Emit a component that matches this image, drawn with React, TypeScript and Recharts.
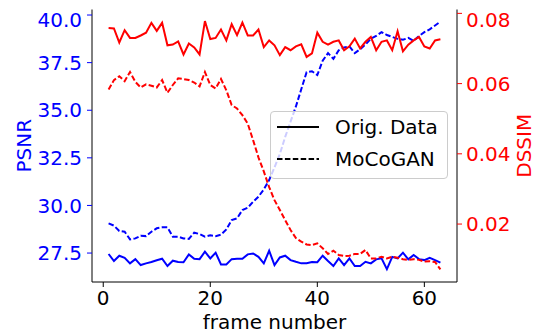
import { LineChart, Line, XAxis, YAxis, Legend } from "recharts";

const frames = [
  1, 2, 3, 4, 5, 6, 7, 8, 9, 10, 11, 12, 13, 14, 15, 16, 17, 18, 19, 20, 21,
  22, 23, 24, 25, 26, 27, 28, 29, 30, 31, 32, 33, 34, 35, 36, 37, 38, 39, 40,
  41, 42, 43, 44, 45, 46, 47, 48, 49, 50, 51, 52, 53, 54, 55, 56, 57, 58, 59,
  60, 61, 62, 63,
];

const psnrOrig = [
  27.45, 27.08, 27.36, 27.25, 26.96, 27.18, 26.87, 26.96, 27.03, 27.12,
  27.2, 26.82, 27.1, 27.03, 27.02, 27.43, 27.2, 27.18, 27.57, 27.22,
  27.52, 26.9, 26.9, 27.18, 27.2, 27.2, 27.43, 27.48, 27.3, 26.96,
  27.62, 26.87, 27.27, 27.36, 27.13, 27.04, 26.96, 26.96, 27.03, 27.02,
  27.36, 27.08, 26.82, 27.22, 26.87, 27.22, 26.82, 26.82, 27.04, 26.96,
  27.17, 27.22, 26.65, 27.3, 27.22, 27.52, 27.17, 27.4, 27.18, 27.13,
  27.25, 27.13, 27.0,
];

const psnrMoco = [
  29.06, 28.94, 28.66, 28.62, 28.22, 28.27, 28.41, 28.39, 28.62, 28.8,
  28.85, 28.85, 28.36, 28.36, 28.27, 28.24, 28.57, 28.5, 28.36, 28.43,
  28.39, 28.47, 28.74, 29.23, 29.32, 29.76, 29.88, 30.19, 30.46, 30.84,
  31.33, 32.0, 32.7, 33.6, 34.4, 35.2, 36.1, 37.0, 37.05, 36.85,
  37.6, 38.0, 37.7, 38.15, 38.3, 38.35, 38.0, 38.2, 38.45, 38.75,
  38.9, 39.1, 38.95, 38.85, 38.75, 38.7, 38.8, 38.65, 38.9, 39.1,
  39.25, 39.45, 39.65,
];

const dssimOrig = [
  0.0758, 0.0757, 0.0717, 0.0752, 0.073, 0.073, 0.0737, 0.0745, 0.0773, 0.075,
  0.0773, 0.0709, 0.0711, 0.072, 0.0683, 0.0714, 0.0703, 0.0683, 0.0778, 0.0727,
  0.073, 0.0754, 0.0723, 0.0769, 0.0738, 0.0774, 0.0737, 0.0737, 0.0754, 0.0704,
  0.0723, 0.0709, 0.0681, 0.0704, 0.0695, 0.0706, 0.0712, 0.0676, 0.0686, 0.0745,
  0.0719, 0.0711, 0.0719, 0.0723, 0.0695, 0.0706, 0.0728, 0.07, 0.0719, 0.0733,
  0.0695, 0.0719, 0.0723, 0.0695, 0.0749, 0.0692, 0.0711, 0.0723, 0.0733, 0.0706,
  0.07, 0.0723, 0.0726,
];

const dssimMoco = [
  0.0583, 0.061, 0.0621, 0.0607, 0.0633, 0.0605, 0.0589, 0.0598, 0.0594, 0.0589,
  0.061, 0.0574, 0.0596, 0.0615, 0.0613, 0.061, 0.0603, 0.0592, 0.0633, 0.0596,
  0.0586, 0.0613, 0.0581, 0.0539, 0.0529, 0.051, 0.0486, 0.0439, 0.039, 0.035,
  0.0305, 0.0268, 0.024, 0.0211, 0.0183, 0.016, 0.015, 0.0142, 0.014, 0.0145,
  0.0131, 0.0115, 0.0124, 0.0112, 0.0109, 0.011, 0.0115, 0.0115, 0.0126, 0.0102,
  0.0102, 0.0107, 0.0102, 0.0107, 0.0104, 0.01, 0.0098, 0.01, 0.0098, 0.0093,
  0.0094, 0.0092, 0.0071,
];

const xTicks = [0, 20, 40, 60];
const psnrTicks = [27.5, 30, 32.5, 35, 37.5, 40];
const dssimTicks = [0.02, 0.04, 0.06, 0.08];

const data = frames.map((f, i) => ({
  frame: f,
  psnrOrig: psnrOrig[i],
  psnrMoco: psnrMoco[i],
  dssimOrig: dssimOrig[i],
  dssimMoco: dssimMoco[i],
}));

const FONT = "'DejaVu Sans', sans-serif";
const BLUE = "#0000ff";
const RED = "#ff0000";
const DASH = "5.5 2.4";

const renderLegend = () => (
  <div
    style={{
      width: 178,
      height: 68,
      boxSizing: "border-box",
      border: "1px solid #cccccc",
      borderRadius: 4,
      background: "rgba(255,255,255,0.8)",
      fontFamily: FONT,
      fontSize: 20,
      color: "#000",
      position: "relative",
    }}
  >
    {[
      { label: "Orig. Data", dash: undefined, y: 15 },
      { label: "MoCoGAN", dash: DASH, y: 47 },
    ].map((it) => (
      <div key={it.label} style={{ position: "absolute", left: 0, top: it.y - 12, height: 24, width: 178 }}>
        <svg width={50} height={24} style={{ position: "absolute", left: 6, top: 0 }}>
          <line x1={0} y1={12} x2={42} y2={12} stroke="#000" strokeWidth={2} strokeDasharray={it.dash} />
        </svg>
        <span style={{ position: "absolute", left: 64, top: 0, lineHeight: "24px", whiteSpace: "nowrap" }}>
          {it.label}
        </span>
      </div>
    ))}
  </div>
);

export default function App() {
  return (
    <LineChart
      width={534}
      height={326}
      data={data}
      margin={{ top: 1.5, right: 0, bottom: 0, left: 0 }}
      style={{ fontFamily: FONT }}
    >
      <XAxis
        dataKey="frame"
        type="number"
        domain={[-2.1, 66.1]}
        ticks={xTicks}
        allowDataOverflow
        height={52}
        tickSize={5}
        tickMargin={4}
        axisLine={{ stroke: "#000", strokeWidth: 1 }}
        tickLine={{ stroke: "#000" }}
        tick={{ fill: "#000", fontSize: 20 }}
        label={({ viewBox }: any) => (
          <text
            x={viewBox.x + viewBox.width / 2}
            y={321}
            textAnchor="middle"
            fontSize={20}
            fill="#000"
          >
            frame number
          </text>
        )}
      />
      <XAxis
        xAxisId="top"
        dataKey="frame"
        type="number"
        domain={[-2.1, 66.1]}
        orientation="top"
        height={0}
        tick={false}
        tickLine={false}
        axisLine={{ stroke: "#000", strokeWidth: 1 }}
      />
      <YAxis
        yAxisId="psnr"
        orientation="left"
        width={84}
        domain={[25.98, 40.29]}
        ticks={psnrTicks}
        allowDataOverflow
        tickFormatter={(v: number) => v.toFixed(1)}
        tickSize={5}
        tickMargin={5}
        axisLine={{ stroke: "#000", strokeWidth: 1 }}
        tickLine={{ stroke: BLUE }}
        tick={{ fill: BLUE, fontSize: 20 }}
        label={({ viewBox }: any) => {
          const cy = viewBox.y + viewBox.height / 2;
          return (
            <text
              x={16}
              y={cy}
              transform={`rotate(-90 16 ${cy})`}
              textAnchor="middle"
              dominantBaseline="central"
              fontSize={20}
              fill={BLUE}
            >
              PSNR
            </text>
          );
        }}
      />
      <YAxis
        yAxisId="dssim"
        orientation="right"
        width={85}
        domain={[0.0035, 0.0811]}
        ticks={dssimTicks}
        allowDataOverflow
        tickFormatter={(v: number) => v.toFixed(2)}
        tickSize={5}
        tickMargin={4}
        axisLine={{ stroke: "#000", strokeWidth: 1 }}
        tickLine={{ stroke: RED }}
        tick={{ fill: RED, fontSize: 20 }}
        label={({ viewBox }: any) => {
          const cy = viewBox.y + viewBox.height / 2;
          return (
            <text
              x={516}
              y={cy}
              transform={`rotate(-90 516 ${cy})`}
              textAnchor="middle"
              dominantBaseline="central"
              fontSize={20}
              fill={RED}
            >
              DSSIM
            </text>
          );
        }}
      />
      <Line yAxisId="psnr" dataKey="psnrOrig" stroke={BLUE} strokeWidth={2} dot={false} isAnimationActive={false} />
      <Line yAxisId="psnr" dataKey="psnrMoco" stroke={BLUE} strokeWidth={2} strokeDasharray={DASH} dot={false} isAnimationActive={false} />
      <Line yAxisId="dssim" dataKey="dssimOrig" stroke={RED} strokeWidth={2} dot={false} isAnimationActive={false} />
      <Line yAxisId="dssim" dataKey="dssimMoco" stroke={RED} strokeWidth={2} strokeDasharray={DASH} dot={false} isAnimationActive={false} />
      <Legend
        layout="horizontal"
        verticalAlign="middle"
        align="center"
        content={renderLegend}
        wrapperStyle={{ left: 262, top: 103, width: 178, height: 68 }}
      />
    </LineChart>
  );
}
